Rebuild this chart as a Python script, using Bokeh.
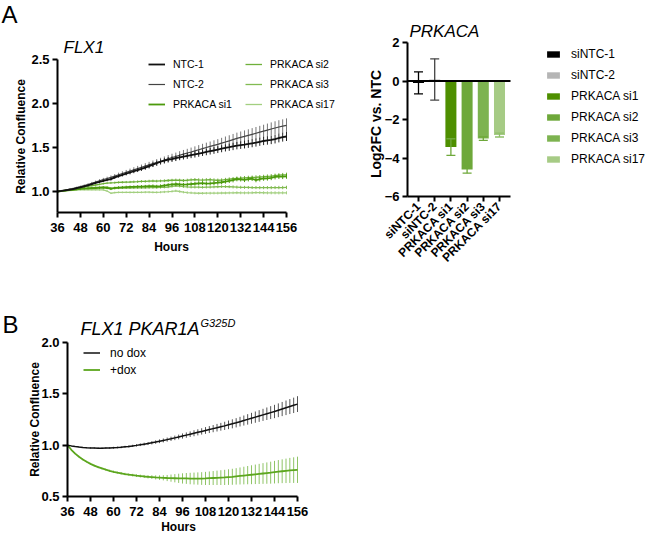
import math
from bokeh.plotting import figure
from bokeh.models import (ColumnDataSource, Range1d, FixedTicker, Legend,
                          LegendItem, Label, NumeralTickFormatter)
from bokeh.layouts import row, column
from bokeh.embed import file_html
from bokeh.resources import INLINE

FONT = "Liberation Sans"

# ---------------- data ----------------
hours = list(range(36, 157, 2))
hour_ticks = [36, 48, 60, 72, 84, 96, 108, 120, 132, 144, 156]

# Panel A, left: relative confluence
ntc1 = [1.000, 1.006, 1.013, 1.020, 1.028, 1.037, 1.047, 1.058, 1.070, 1.083,
        1.097, 1.110, 1.122, 1.131, 1.140, 1.160, 1.175, 1.190, 1.203, 1.216,
        1.230, 1.244, 1.258, 1.272, 1.288, 1.305, 1.322, 1.338, 1.350, 1.362,
        1.368, 1.378, 1.388, 1.397, 1.405, 1.413, 1.421, 1.430, 1.440, 1.449,
        1.458, 1.466, 1.476, 1.486, 1.495, 1.503, 1.512, 1.521, 1.527, 1.533,
        1.540, 1.548, 1.556, 1.565, 1.574, 1.580, 1.586, 1.595, 1.608, 1.617,
        1.625]
ntc1_err = [0.000, 0.003, 0.004, 0.005, 0.006, 0.007, 0.008, 0.009, 0.010, 0.011,
            0.012, 0.013, 0.014, 0.015, 0.016, 0.017, 0.018, 0.019, 0.020, 0.021,
            0.022, 0.023, 0.024, 0.025, 0.026, 0.027, 0.028, 0.028, 0.029, 0.030,
            0.031, 0.032, 0.032, 0.033, 0.034, 0.034, 0.035, 0.036, 0.036, 0.037,
            0.038, 0.038, 0.039, 0.040, 0.040, 0.041, 0.042, 0.042, 0.043, 0.044,
            0.044, 0.045, 0.046, 0.046, 0.047, 0.048, 0.048, 0.049, 0.050, 0.050,
            0.051]
ntc2 = [1.000, 1.008, 1.016, 1.025, 1.034, 1.044, 1.055, 1.067, 1.080, 1.094,
        1.108, 1.122, 1.136, 1.148, 1.160, 1.175, 1.190, 1.204, 1.218, 1.232,
        1.246, 1.260, 1.274, 1.288, 1.302, 1.316, 1.330, 1.344, 1.358, 1.372,
        1.386, 1.398, 1.412, 1.425, 1.437, 1.449, 1.462, 1.475, 1.488, 1.500,
        1.512, 1.524, 1.536, 1.550, 1.563, 1.576, 1.590, 1.603, 1.615, 1.626,
        1.638, 1.650, 1.662, 1.674, 1.686, 1.698, 1.710, 1.722, 1.733, 1.742,
        1.752]
ntc2_err = [0.000, 0.003, 0.005, 0.007, 0.008, 0.010, 0.011, 0.012, 0.014, 0.015,
            0.016, 0.018, 0.019, 0.020, 0.022, 0.023, 0.024, 0.026, 0.027, 0.028,
            0.030, 0.031, 0.032, 0.034, 0.035, 0.036, 0.038, 0.039, 0.040, 0.042,
            0.043, 0.044, 0.046, 0.047, 0.048, 0.050, 0.051, 0.052, 0.054, 0.055,
            0.056, 0.058, 0.059, 0.060, 0.062, 0.063, 0.064, 0.066, 0.067, 0.068,
            0.069, 0.070, 0.071, 0.072, 0.073, 0.074, 0.075, 0.076, 0.077, 0.078,
            0.079]
si1 = [1.000, 1.005, 1.010, 1.015, 1.020, 1.025, 1.030, 1.033, 1.036, 1.038,
       1.040, 1.042, 1.044, 1.040, 1.030, 1.040, 1.045, 1.048, 1.050, 1.052,
       1.053, 1.055, 1.056, 1.058, 1.060, 1.062, 1.058, 1.062, 1.068, 1.075,
       1.080, 1.085, 1.082, 1.078, 1.080, 1.085, 1.088, 1.092, 1.095, 1.090,
       1.092, 1.096, 1.100, 1.105, 1.112, 1.120, 1.128, 1.140, 1.138, 1.132,
       1.140, 1.145, 1.130, 1.140, 1.148, 1.150, 1.155, 1.165, 1.170, 1.168,
       1.172]
si1_err = [0.000, 0.004, 0.006, 0.007, 0.008, 0.009, 0.010, 0.010, 0.011, 0.012,
           0.012, 0.013, 0.013, 0.014, 0.014, 0.015, 0.015, 0.015, 0.016, 0.016,
           0.016, 0.017, 0.017, 0.017, 0.018, 0.018, 0.018, 0.019, 0.019, 0.019,
           0.020, 0.020, 0.020, 0.020, 0.021, 0.021, 0.021, 0.022, 0.022, 0.022,
           0.022, 0.023, 0.023, 0.023, 0.023, 0.024, 0.024, 0.024, 0.024, 0.025,
           0.025, 0.025, 0.025, 0.026, 0.026, 0.026, 0.026, 0.027, 0.027, 0.027,
           0.027]
si2 = [1.000, 1.007, 1.014, 1.021, 1.028, 1.035, 1.042, 1.050, 1.058, 1.066,
       1.074, 1.082, 1.090, 1.095, 1.098, 1.100, 1.103, 1.105, 1.107, 1.108,
       1.110, 1.112, 1.115, 1.115, 1.118, 1.120, 1.118, 1.120, 1.122, 1.125,
       1.128, 1.130, 1.128, 1.125, 1.128, 1.132, 1.135, 1.132, 1.130, 1.133,
       1.135, 1.130, 1.128, 1.130, 1.135, 1.140, 1.145, 1.150, 1.152, 1.155,
       1.158, 1.160, 1.162, 1.165, 1.168, 1.172, 1.175, 1.180, 1.185, 1.188,
       1.190]
si2_err = [0.000, 0.003, 0.005, 0.006, 0.007, 0.008, 0.008, 0.009, 0.009, 0.010,
           0.010, 0.011, 0.011, 0.011, 0.012, 0.012, 0.012, 0.013, 0.013, 0.013,
           0.014, 0.014, 0.014, 0.014, 0.015, 0.015, 0.015, 0.015, 0.016, 0.016,
           0.016, 0.016, 0.017, 0.017, 0.017, 0.017, 0.018, 0.018, 0.018, 0.018,
           0.019, 0.019, 0.019, 0.019, 0.020, 0.020, 0.020, 0.020, 0.021, 0.021,
           0.021, 0.021, 0.022, 0.022, 0.022, 0.022, 0.023, 0.023, 0.023, 0.023,
           0.024]
si3 = [1.000, 1.005, 1.010, 1.015, 1.020, 1.025, 1.030, 1.035, 1.039, 1.044,
       1.048, 1.050, 1.052, 1.050, 1.040, 1.036, 1.038, 1.039, 1.040, 1.040,
       1.041, 1.041, 1.042, 1.042, 1.043, 1.044, 1.044, 1.046, 1.048, 1.051,
       1.058, 1.065, 1.060, 1.055, 1.052, 1.050, 1.049, 1.049, 1.048, 1.049,
       1.050, 1.052, 1.054, 1.056, 1.056, 1.054, 1.052, 1.050, 1.048, 1.047,
       1.046, 1.045, 1.045, 1.044, 1.044, 1.044, 1.044, 1.045, 1.045, 1.045,
       1.046]
si3_err = [0.000, 0.003, 0.004, 0.005, 0.006, 0.006, 0.007, 0.007, 0.008, 0.008,
           0.009, 0.009, 0.009, 0.010, 0.010, 0.010, 0.011, 0.011, 0.011, 0.011,
           0.012, 0.012, 0.012, 0.012, 0.013, 0.013, 0.013, 0.013, 0.013, 0.014,
           0.014, 0.014, 0.014, 0.014, 0.015, 0.015, 0.015, 0.015, 0.015, 0.015,
           0.016, 0.016, 0.016, 0.016, 0.016, 0.016, 0.017, 0.017, 0.017, 0.017,
           0.017, 0.017, 0.018, 0.018, 0.018, 0.018, 0.018, 0.018, 0.019, 0.019,
           0.019]
si17 = [1.000, 1.004, 1.008, 1.011, 1.014, 1.016, 1.018, 1.019, 1.020, 1.020,
        1.020, 1.019, 1.018, 1.005, 0.980, 0.988, 0.990, 0.990, 0.991, 0.990,
        0.990, 0.991, 0.991, 0.992, 0.992, 0.991, 0.990, 0.992, 0.995, 0.998,
        1.002, 1.008, 1.000, 0.992, 0.988, 0.985, 0.982, 0.980, 0.980, 0.981,
        0.981, 0.982, 0.982, 0.983, 0.983, 0.984, 0.985, 0.986, 0.985, 0.984,
        0.985, 0.986, 0.988, 0.987, 0.986, 0.985, 0.985, 0.985, 0.984, 0.985,
        0.985]
si17_err = [0.000, 0.002, 0.004, 0.005, 0.005, 0.006, 0.006, 0.007, 0.007, 0.008,
            0.008, 0.008, 0.009, 0.009, 0.009, 0.010, 0.010, 0.010, 0.010, 0.011,
            0.011, 0.011, 0.011, 0.012, 0.012, 0.012, 0.012, 0.012, 0.013, 0.013,
            0.013, 0.013, 0.013, 0.013, 0.014, 0.014, 0.014, 0.014, 0.014, 0.014,
            0.015, 0.015, 0.015, 0.015, 0.015, 0.015, 0.015, 0.016, 0.016, 0.016,
            0.016, 0.016, 0.016, 0.016, 0.017, 0.017, 0.017, 0.017, 0.017, 0.017,
            0.017]

# Panel A, right: PRKACA knockdown
bar_labels = ["siNTC-1", "siNTC-2", "PRKACA si1", "PRKACA si2", "PRKACA si3", "PRKACA si17"]
log2fc = [-0.10, 0.08, -3.43, -4.60, -2.99, -2.81]
log2fc_err = [0.57, 1.07, 0.43, 0.19, 0.09, 0.10]

# Panel B
nodox = [1.000, 0.993, 0.987, 0.982, 0.978, 0.975, 0.973, 0.972, 0.971, 0.971,
         0.972, 0.973, 0.975, 0.977, 0.980, 0.984, 0.988, 0.993, 0.998, 1.004,
         1.010, 1.016, 1.023, 1.030, 1.038, 1.046, 1.054, 1.062, 1.071, 1.080,
         1.089, 1.098, 1.107, 1.116, 1.125, 1.134, 1.143, 1.152, 1.161, 1.170,
         1.179, 1.188, 1.198, 1.208, 1.218, 1.229, 1.240, 1.251, 1.262, 1.273,
         1.284, 1.295, 1.306, 1.317, 1.328, 1.340, 1.352, 1.364, 1.376, 1.388,
         1.400]
nodox_err = [0.000, 0.002, 0.003, 0.004, 0.005, 0.005, 0.006, 0.006, 0.007, 0.007,
             0.008, 0.008, 0.009, 0.009, 0.010, 0.010, 0.011, 0.011, 0.012, 0.013,
             0.014, 0.015, 0.016, 0.017, 0.018, 0.019, 0.020, 0.021, 0.022, 0.023,
             0.025, 0.026, 0.027, 0.029, 0.030, 0.031, 0.033, 0.034, 0.035, 0.037,
             0.038, 0.040, 0.042, 0.044, 0.045, 0.047, 0.049, 0.051, 0.053, 0.055,
             0.057, 0.059, 0.061, 0.063, 0.065, 0.067, 0.069, 0.071, 0.073, 0.075,
             0.077]
dox = [1.000, 0.955, 0.918, 0.887, 0.861, 0.838, 0.818, 0.801, 0.786, 0.773,
       0.761, 0.750, 0.741, 0.733, 0.726, 0.719, 0.713, 0.708, 0.703, 0.699,
       0.695, 0.692, 0.689, 0.686, 0.684, 0.682, 0.680, 0.679, 0.678, 0.677,
       0.676, 0.676, 0.675, 0.675, 0.675, 0.675, 0.676, 0.678, 0.680, 0.682,
       0.684, 0.686, 0.689, 0.692, 0.696, 0.700, 0.704, 0.708, 0.712, 0.716,
       0.720, 0.724, 0.728, 0.732, 0.737, 0.742, 0.746, 0.750, 0.754, 0.757,
       0.760]
dox_err = [0.000, 0.004, 0.006, 0.007, 0.008, 0.008, 0.009, 0.009, 0.010, 0.010,
           0.010, 0.011, 0.011, 0.011, 0.012, 0.012, 0.012, 0.013, 0.013, 0.014,
           0.015, 0.016, 0.018, 0.020, 0.022, 0.025, 0.030, 0.035, 0.040, 0.045,
           0.050, 0.053, 0.056, 0.058, 0.060, 0.062, 0.064, 0.066, 0.068, 0.070,
           0.072, 0.074, 0.076, 0.078, 0.080, 0.083, 0.086, 0.089, 0.092, 0.095,
           0.098, 0.101, 0.104, 0.107, 0.110, 0.113, 0.116, 0.119, 0.122, 0.125,
           0.128]


# ---------------- helpers ----------------
def pixel_maps(px0, vx0, sx, py0, vy0, sy):
    """Convert canvas pixel positions (layout) to data coordinates."""
    def fx(px):
        return vx0 + (px - px0) / sx

    def fy(py):
        return vy0 + (py0 - py) / sy
    return fx, fy


def make_fig(w, h, fx, fy):
    p = figure(frame_width=w, frame_height=h, min_border=0,
               min_border_left=0, min_border_right=0, min_border_top=0, min_border_bottom=0,
               x_range=Range1d(fx(0), fx(w)), y_range=Range1d(fy(h), fy(0)),
               output_backend="svg", toolbar_location=None)
    p.outline_line_color = None
    p.grid.visible = False
    p.background_fill_color = "white"
    p.border_fill_color = "white"
    for ax in p.axis:
        ax.axis_label = None
        ax.axis_line_width = 2
        ax.axis_line_color = "black"
        ax.major_tick_line_width = 2
        ax.major_tick_line_color = "black"
        ax.major_tick_out = 5
        ax.major_tick_in = 0
        ax.minor_tick_line_color = None
        ax.major_label_text_font = FONT
        ax.major_label_text_font_style = "bold"
        ax.major_label_text_font_size = "13px"
        ax.major_label_text_color = "black"
    return p


def text(p, x, y, s, size, style="normal", angle=0.0, align="left"):
    # y is the vertical centre of the text
    p.add_layout(Label(x=x, y=y, text=s, text_font=FONT, text_font_size=size,
                       text_font_style=style, text_color="black", angle=angle,
                       text_align=align, text_baseline="middle"))


def add_series(p, y, err, color, width, err_color):
    src = ColumnDataSource(dict(
        h=hours, y=y,
        lo=[a - b for a, b in zip(y, err)],
        hi=[a + b for a, b in zip(y, err)]))
    p.segment(x0="h", y0="lo", x1="h", y1="hi", source=src,
              line_color=err_color, line_width=1)
    return p.line("h", "y", source=src, line_color=color, line_width=width)


def make_legend(items, loc, font_size, row_h, glyph_h, glyph_w, standoff):
    lg = Legend(items=items, location=loc, glyph_width=glyph_w, glyph_height=glyph_h,
                label_height=row_h, spacing=0, padding=0, margin=0,
                label_standoff=standoff, background_fill_alpha=0,
                border_line_color=None)
    lg.label_text_font = FONT
    lg.label_text_font_size = font_size
    lg.label_text_color = "black"
    return lg


# ---------------- Panel A left ----------------
WA, HA = 340, 290
fxA, fyA = pixel_maps(57, 36, 229 / 120, 59, 2.5, 88)
pA = make_fig(WA, HA, fxA, fyA)
yA_bottom = fyA(212)
pA.xaxis.ticker = FixedTicker(ticks=hour_ticks)
pA.yaxis.ticker = FixedTicker(ticks=[1.0, 1.5, 2.0, 2.5])
pA.yaxis.formatter = NumeralTickFormatter(format="0.0")
pA.yaxis.fixed_location = 36
pA.yaxis.bounds = (yA_bottom, 2.5)
pA.xaxis.fixed_location = yA_bottom
pA.xaxis.bounds = (36, 156)
pA.yaxis.major_label_standoff = 3
pA.xaxis.major_label_standoff = 5

r_si17 = add_series(pA, si17, si17_err, "#a3cf80", 1.3, "#a3cf80")
r_si3 = add_series(pA, si3, si3_err, "#82bb52", 1.3, "#82bb52")
r_si2 = add_series(pA, si2, si2_err, "#6fb03a", 1.3, "#6fb03a")
r_si1 = add_series(pA, si1, si1_err, "#4b9a0c", 1.8, "#4b9a0c")
r_ntc2 = add_series(pA, ntc2, ntc2_err, "#444444", 1.2, "#777777")
r_ntc1 = add_series(pA, ntc1, ntc1_err, "#111111", 1.8, "#222222")

pA.add_layout(make_legend([LegendItem(label="NTC-1", renderers=[r_ntc1]),
                           LegendItem(label="NTC-2", renderers=[r_ntc2]),
                           LegendItem(label="PRKACA si1", renderers=[r_si1])],
                          (148, 176), "10.5px", 20, 20, 17, 8))
pA.add_layout(make_legend([LegendItem(label="PRKACA si2", renderers=[r_si2]),
                           LegendItem(label="PRKACA si3", renderers=[r_si3]),
                           LegendItem(label="PRKACA si17", renderers=[r_si17])],
                          (245, 176), "10.5px", 20, 20, 17, 8))

text(pA, fxA(1), fyA(14), "A", "24px")
text(pA, fxA(63), fyA(47), "FLX1", "17px", "italic")
text(pA, fxA(20.5), fyA(136), "Relative Confluence", "12px", "bold",
     angle=math.pi / 2, align="center")
text(pA, fxA(171), fyA(246), "Hours", "12px", "bold", align="center")

# ---------------- Panel A right (bars) ----------------
WC, HC = 307, 290
fxC, fyC = pixel_maps(78, 0, 16.2, 42, 2, 19.25)
pC = make_fig(WC, HC, fxC, fyC)
bar_pos = list(range(len(bar_labels)))
bar_colors = ["#000000", "#b5b5b5", "#4e8f00", "#6ea83a", "#7db350", "#a6cb85"]
err_colors = ["#000000", "#444444", "#6ea83a", "#6ea83a", "#6ea83a", "#8fbf6a"]
xC_left, xC_right = fxC(67), fxC(170)

pC.yaxis.ticker = FixedTicker(ticks=[-6, -4, -2, 0, 2])
pC.yaxis.fixed_location = xC_left
pC.yaxis.bounds = (-6, 2)
pC.yaxis.major_label_standoff = 3
pC.xaxis.ticker = FixedTicker(ticks=bar_pos)
pC.xaxis.major_label_overrides = {i: lab for i, lab in zip(bar_pos, bar_labels)}
pC.xaxis.fixed_location = -6
pC.xaxis.bounds = (xC_left, xC_right)
pC.xaxis.major_label_orientation = math.pi / 4
pC.xaxis.major_label_text_font_size = "12px"
pC.xaxis.major_label_standoff = 3

bsrc = ColumnDataSource(dict(
    pos=bar_pos, val=log2fc,
    lo=[v - e for v, e in zip(log2fc, log2fc_err)],
    hi=[v + e for v, e in zip(log2fc, log2fc_err)],
    color=bar_colors, ecolor=err_colors))
rb = pC.vbar(x="pos", top="val", bottom=0, width=0.68, source=bsrc,
             fill_color="color", line_color=None)
pC.segment(x0="pos", y0="lo", x1="pos", y1="hi", source=bsrc,
           line_color="ecolor", line_width=1.3)
pC.scatter(x="pos", y="lo", marker="dash", size=9, source=bsrc,
           line_color="ecolor", line_width=1.3)
pC.scatter(x="pos", y="hi", marker="dash", size=9, source=bsrc,
           line_color="ecolor", line_width=1.3)
# zero baseline across the axis extent
pC.line(x=[xC_left, xC_right], y=[0, 0], line_color="black", line_width=2)

pC.add_layout(make_legend([LegendItem(label=lab, renderers=[rb], index=i)
                           for i, lab in enumerate(bar_labels)],
                          (205, 121), "12px", 21, 8, 16, 10))

text(pC, fxC(69), fyC(30.5), "PRKACA", "17px", "italic")
text(pC, fxC(35.5), fyC(123.5), "Log2FC vs. NTC", "14px", "bold",
     angle=math.pi / 2, align="center")

# ---------------- Panel B ----------------
WB, HB = 330, 244
fxB, fyB = pixel_maps(67, 36, 230 / 120, 52, 2.0, 154 / 1.5)
pB = make_fig(WB, HB, fxB, fyB)
pB.xaxis.ticker = FixedTicker(ticks=hour_ticks)
pB.yaxis.ticker = FixedTicker(ticks=[0.5, 1.0, 1.5, 2.0])
pB.yaxis.formatter = NumeralTickFormatter(format="0.0")
pB.yaxis.fixed_location = 36
pB.yaxis.bounds = (0.5, 2.0)
pB.xaxis.fixed_location = 0.5
pB.xaxis.bounds = (36, 156)
pB.yaxis.major_label_standoff = 3
pB.xaxis.major_label_standoff = 5

r_dox = add_series(pB, dox, dox_err, "#5ca61e", 1.8, "#8fc466")
r_nodox = add_series(pB, nodox, nodox_err, "#111111", 1.5, "#555555")

pB.add_layout(make_legend([LegendItem(label="no dox", renderers=[r_nodox]),
                           LegendItem(label="+dox", renderers=[r_dox])],
                          (83, 156), "12px", 17, 17, 17, 10))

text(pB, fxB(2), fyB(33.5), "B", "24px")
text(pB, fxB(80), fyB(38.5), "FLX1 PKAR1A", "18px", "italic")
text(pB, fxB(200), fyB(32), "G325D", "11px", "italic")
text(pB, fxB(34.5), fyB(129), "Relative Confluence", "12px", "bold",
     angle=math.pi / 2, align="center")
text(pB, fxB(178), fyB(236), "Hours", "12px", "bold", align="center")

layout = column(row(pA, pC), pB)
open("out.html", "w").write(file_html(layout, INLINE, title="chart"))
